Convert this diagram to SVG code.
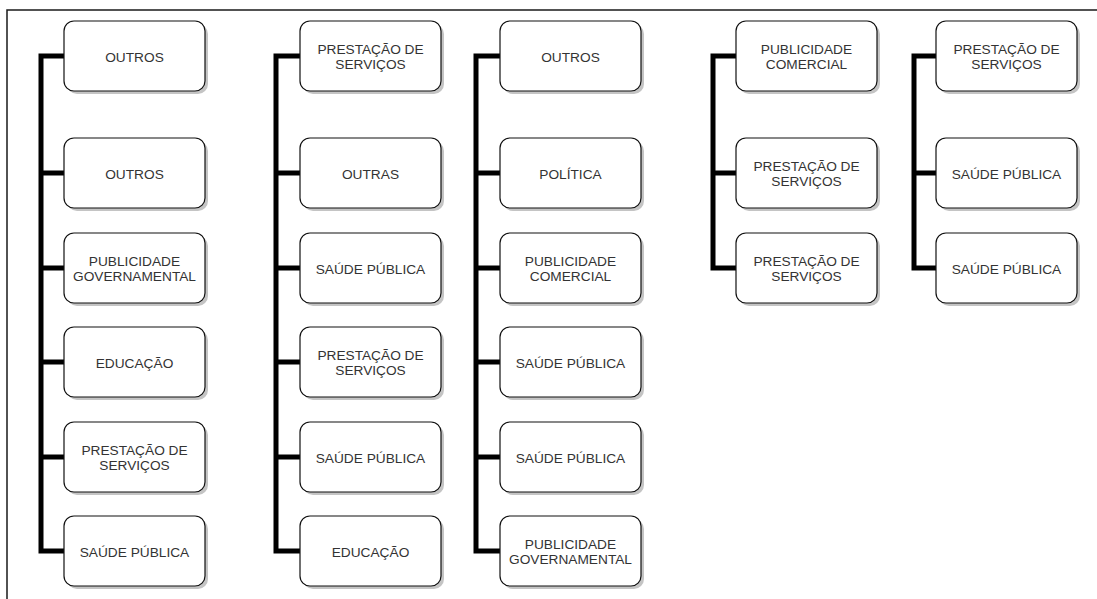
<svg xmlns="http://www.w3.org/2000/svg" width="1097" height="599" viewBox="0 0 1097 599">
<defs>
<style>
.frame{fill:none;stroke:#1a1a1a;stroke-width:1.5}
.conn{fill:none;stroke:#000;stroke-width:5;stroke-linejoin:miter}
.sh{fill:#c4c4c4}
.box{fill:#fff;stroke:#111;stroke-width:1.2}
.t{font-family:"Liberation Sans",Arial,sans-serif;font-size:13.7px;fill:#333;text-anchor:middle}
</style>
<symbol id="n" overflow="visible">
<rect class="sh" x="3" y="3" width="141" height="70" rx="10" ry="10"/>
<rect class="box" x="0" y="0" width="141" height="70" rx="10" ry="10"/>
</symbol>
</defs>
<rect width="1097" height="599" fill="#fff"/>
<path class="frame" d="M7,599 V10 H1097"/>
<g id="connectors">
<path class="conn" d="M64,56 H41 V551 H64 M41,173 H64 M41,268 H64 M41,362 H64 M41,457 H64"/>
<path class="conn" d="M300,56 H276 V551 H300 M276,173 H300 M276,268 H300 M276,362 H300 M276,457 H300"/>
<path class="conn" d="M500,56 H476 V551 H500 M476,173 H500 M476,268 H500 M476,362 H500 M476,457 H500"/>
<path class="conn" d="M736,56 H713 V268 H736 M713,173 H736"/>
<path class="conn" d="M936,56 H914 V268 H936 M914,173 H936"/>
</g>
<g id="c1n1"><use href="#n" x="64" y="21"/><text class="t" x="134.5" y="61.5">OUTROS</text></g>
<g id="c1n2"><use href="#n" x="64" y="138"/><text class="t" x="134.5" y="178.5">OUTROS</text></g>
<g id="c1n3"><use href="#n" x="64" y="233"/><text class="t" x="134.5" y="265.5">PUBLICIDADE</text><text class="t" x="134.5" y="280.5">GOVERNAMENTAL</text></g>
<g id="c1n4"><use href="#n" x="64" y="327"/><text class="t" x="134.5" y="367.5">EDUCAÇÃO</text></g>
<g id="c1n5"><use href="#n" x="64" y="422"/><text class="t" x="134.5" y="454.5">PRESTAÇÃO DE</text><text class="t" x="134.5" y="469.5">SERVIÇOS</text></g>
<g id="c1n6"><use href="#n" x="64" y="516"/><text class="t" x="134.5" y="556.5">SAÚDE PÚBLICA</text></g>

<g id="c2n1"><use href="#n" x="300" y="21"/><text class="t" x="370.5" y="53.5">PRESTAÇÃO DE</text><text class="t" x="370.5" y="68.5">SERVIÇOS</text></g>
<g id="c2n2"><use href="#n" x="300" y="138"/><text class="t" x="370.5" y="178.5">OUTRAS</text></g>
<g id="c2n3"><use href="#n" x="300" y="233"/><text class="t" x="370.5" y="273.5">SAÚDE PÚBLICA</text></g>
<g id="c2n4"><use href="#n" x="300" y="327"/><text class="t" x="370.5" y="359.5">PRESTAÇÃO DE</text><text class="t" x="370.5" y="374.5">SERVIÇOS</text></g>
<g id="c2n5"><use href="#n" x="300" y="422"/><text class="t" x="370.5" y="462.5">SAÚDE PÚBLICA</text></g>
<g id="c2n6"><use href="#n" x="300" y="516"/><text class="t" x="370.5" y="556.5">EDUCAÇÃO</text></g>

<g id="c3n1"><use href="#n" x="500" y="21"/><text class="t" x="570.5" y="61.5">OUTROS</text></g>
<g id="c3n2"><use href="#n" x="500" y="138"/><text class="t" x="570.5" y="178.5">POLÍTICA</text></g>
<g id="c3n3"><use href="#n" x="500" y="233"/><text class="t" x="570.5" y="265.5">PUBLICIDADE</text><text class="t" x="570.5" y="280.5">COMERCIAL</text></g>
<g id="c3n4"><use href="#n" x="500" y="327"/><text class="t" x="570.5" y="367.5">SAÚDE PÚBLICA</text></g>
<g id="c3n5"><use href="#n" x="500" y="422"/><text class="t" x="570.5" y="462.5">SAÚDE PÚBLICA</text></g>
<g id="c3n6"><use href="#n" x="500" y="516"/><text class="t" x="570.5" y="548.5">PUBLICIDADE</text><text class="t" x="570.5" y="563.5">GOVERNAMENTAL</text></g>

<g id="c4n1"><use href="#n" x="736" y="21"/><text class="t" x="806.5" y="53.5">PUBLICIDADE</text><text class="t" x="806.5" y="68.5">COMERCIAL</text></g>
<g id="c4n2"><use href="#n" x="736" y="138"/><text class="t" x="806.5" y="170.5">PRESTAÇÃO DE</text><text class="t" x="806.5" y="185.5">SERVIÇOS</text></g>
<g id="c4n3"><use href="#n" x="736" y="233"/><text class="t" x="806.5" y="265.5">PRESTAÇÃO DE</text><text class="t" x="806.5" y="280.5">SERVIÇOS</text></g>

<g id="c5n1"><use href="#n" x="936" y="21"/><text class="t" x="1006.5" y="53.5">PRESTAÇÃO DE</text><text class="t" x="1006.5" y="68.5">SERVIÇOS</text></g>
<g id="c5n2"><use href="#n" x="936" y="138"/><text class="t" x="1006.5" y="178.5">SAÚDE PÚBLICA</text></g>
<g id="c5n3"><use href="#n" x="936" y="233"/><text class="t" x="1006.5" y="273.5">SAÚDE PÚBLICA</text></g>
</svg>
